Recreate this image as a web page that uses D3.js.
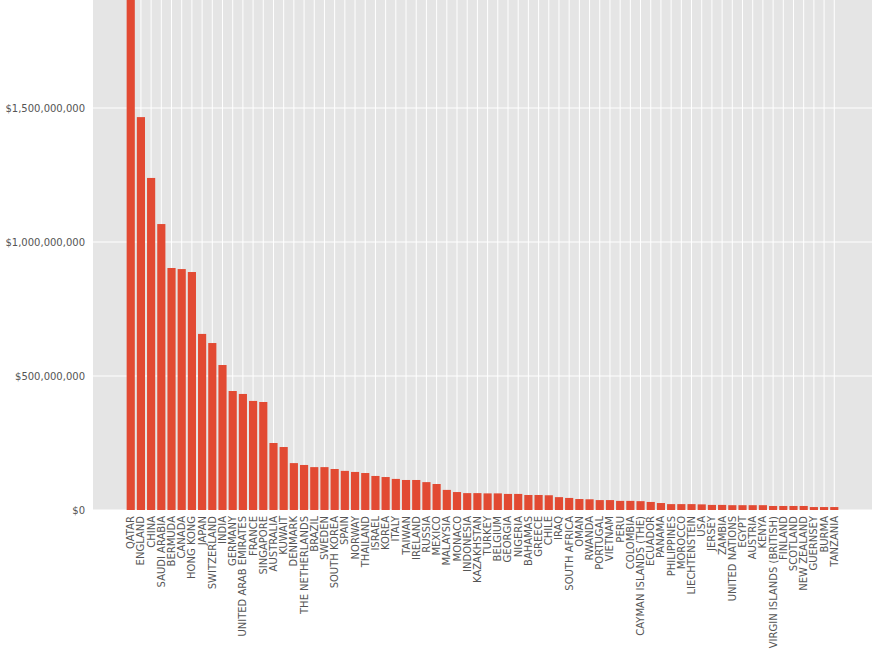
<!DOCTYPE html>
<html><head><meta charset="utf-8">
<script src="https://cdn.jsdelivr.net/npm/d3@7"></script>
<style>body{margin:0;background:#fff}text{font-family:"DejaVu Sans",sans-serif}</style>
</head><body><svg id="c" width="879" height="650"></svg>
<script>
const categories=["QATAR","ENGLAND","CHINA","SAUDI ARABIA","BERMUDA","CANADA","HONG KONG","JAPAN","SWITZERLAND","INDIA","GERMANY","UNITED ARAB EMIRATES","FRANCE","SINGAPORE","AUSTRALIA","KUWAIT","DENMARK","THE NETHERLANDS","BRAZIL","SWEDEN","SOUTH KOREA","SPAIN","NORWAY","THAILAND","ISRAEL","KOREA","ITALY","TAIWAN","IRELAND","RUSSIA","MEXICO","MALAYSIA","MONACO","INDONESIA","KAZAKHSTAN","TURKEY","BELGIUM","GEORGIA","NIGERIA","BAHAMAS","GREECE","CHILE","IRAQ","SOUTH AFRICA","OMAN","RWANDA","PORTUGAL","VIETNAM","PERU","COLOMBIA","CAYMAN ISLANDS (THE)","ECUADOR","PANAMA","PHILIPPINES","MOROCCO","LIECHTENSTEIN","USA","JERSEY","ZAMBIA","UNITED NATIONS","EGYPT","AUSTRIA","KENYA","VIRGIN ISLANDS (BRITISH)","FINLAND","SCOTLAND","NEW ZEALAND","GUERNSEY","BURMA","TANZANIA"];
const values=[2100,1466,1239,1067,903,899,888,657,623,541,444,433,407,403,250,235,175,168,160,160,153,146,142,138,127,123,116,112,112,104,97,75,67,63,63,62,62,60,60,56,56,55,48,45,41,40,37,37,34,34,33,30,26,22,22,22,21,19,19,18,18,18,18,15,15,15,15,11,11,11].map(v=>v*1e6);
const yTicks=[0,5e8,1e9,1.5e9];
const svg=d3.select("#c");
const L=93,R=872,T=0,B=510;
svg.append("rect").attr("x",L).attr("y",T).attr("width",R-L).attr("height",B-T).attr("fill","#e5e5e5");
const y=d3.scaleLinear().domain([0,1903e6]).range([B,T]);
const x=d3.scaleBand().domain(categories).range([L,R]).paddingInner(0.2).paddingOuter(3.3);
const g=svg.append("g");
yTicks.forEach(t=>g.append("line").attr("x1",L).attr("x2",R).attr("y1",y(t)).attr("y2",y(t)).attr("stroke","#fff"));
categories.forEach(c=>g.append("line").attr("x1",x(c)+x.bandwidth()/2).attr("x2",x(c)+x.bandwidth()/2).attr("y1",T).attr("y2",B).attr("stroke","#fff"));
const clip=svg.append("clipPath").attr("id","cp").append("rect").attr("x",L).attr("y",T).attr("width",R-L).attr("height",B-T);
svg.append("g").attr("clip-path","url(#cp)").selectAll("rect").data(categories).join("rect")
 .attr("x",c=>x(c)).attr("width",x.bandwidth()).attr("y",(c,i)=>y(values[i])).attr("height",(c,i)=>B-y(values[i])).attr("fill","#E24A33");
const fmt=d3.format("$,");
const ya=svg.append("g").attr("transform",`translate(${L},0)`).call(d3.axisLeft(y).tickValues(yTicks).tickFormat(d=>fmt(d)).tickSize(0).tickPadding(8));
ya.select(".domain").remove();
ya.selectAll("text").attr("fill","#555").style("font-size","10px");
const xa=svg.append("g").attr("transform",`translate(0,${B})`).call(d3.axisBottom(x).tickSize(0).tickPadding(0));
xa.select(".domain").remove();
xa.selectAll("text").attr("fill","#555").style("font-size","10px").attr("text-anchor","end")
 .attr("transform","rotate(-90)").attr("x",-6).attr("y",0).attr("dy","0.35em");
</script></body></html>
